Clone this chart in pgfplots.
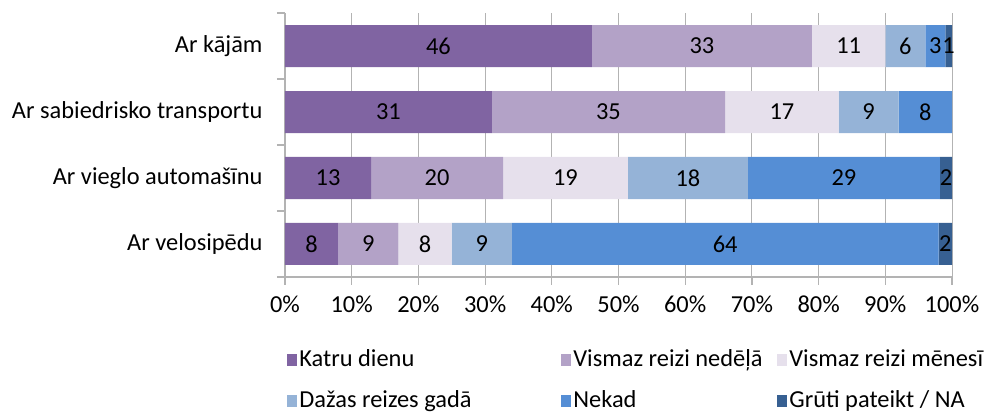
\documentclass[border=0pt]{standalone}
\usepackage{pgfplots}
\usepackage{pgfplotstable}
\pgfplotsset{compat=1.18}
\usepackage{fontspec}
\setmainfont{Carlito}
\definecolor{cA}{HTML}{8064A2}
\definecolor{cB}{HTML}{B3A2C7}
\definecolor{cC}{HTML}{E6E0EC}
\definecolor{cD}{HTML}{95B3D7}
\definecolor{cE}{HTML}{558ED5}
\definecolor{cF}{HTML}{376092}
\definecolor{gridc}{HTML}{B3B3B3}
% y: 0 = Ar velosipēdu, 1 = Ar vieglo automašīnu, 2 = Ar sabiedrisko transportu, 3 = Ar kājām
\pgfplotstableread{
v y
8 0
12.9 1
31 2
46 3
}\tA
\pgfplotstableread{
v y
9 0
19.8 1
35 2
33 3
}\tB
\pgfplotstableread{
v y
8 0
18.7 1
17 2
11 3
}\tC
\pgfplotstableread{
v y
9 0
18 1
9 2
6 3
}\tD
\pgfplotstableread{
v y
64 0
28.8 1
8 2
3 3
}\tE
\pgfplotstableread{
v y
2 0
1.8 1
0 2
1 3
}\tF
\begin{document}
\fontsize{12.2}{14.6}\selectfont
\begin{tikzpicture}
\useasboundingbox (-142.5pt,-69.5pt) rectangle (355pt,138.5pt);
\begin{axis}[
  at={(0,0)}, anchor=south west,
  scale only axis, width=333.5pt, height=132pt,
  xbar stacked, bar width=21pt,
  xmin=0, xmax=100, ymin=-0.5, ymax=3.5,
  xtick={0,10,...,100},
  xticklabel={\pgfmathprintnumber{\tick}\%},
  /pgf/number format/assume math mode=true,
  ytick={-0.5,0.5,1.5,2.5,3.5}, yticklabels={},
  extra y ticks={0,1,2,3},
  extra y tick labels={Ar velosipēdu, Ar vieglo automašīnu, Ar sabiedrisko transportu, Ar kājām},
  extra y tick style={major tick length=0pt, grid=none, yticklabel style={xshift=-7pt}},
  axis x line*=bottom, axis y line*=left,
  axis line style={-, draw=gridc, line width=0.6pt},
  tick style={draw=gridc, line width=0.6pt},
  tick align=outside, major tick length=4pt,
  xmajorgrids, grid style={draw=gridc, line width=0.5pt},
  every tick label/.append style={font=\fontsize{12.2}{14.6}\selectfont},
  xticklabel style={yshift=-1pt},
  visualization depends on={\thisrow{v} \as \rawx},
  nodes near coords={\pgfmathparse{\rawx}\ifdim\pgfmathresult pt>0.5pt\pgfmathprintnumber[fixed,precision=0]{\rawx}\fi},
  every node near coord/.append style={anchor=center, text=black, inner sep=0pt, font=\fontsize{12.2}{14.6}\selectfont},
  legend columns=3,
  legend style={at={(0.003,-0.235)}, anchor=north west, draw=none, fill=none,
    inner sep=0pt, column sep=0pt, row sep=0pt,
    nodes={inner sep=1pt, minimum height=20.5pt, font=\fontsize{12.2}{14.6}\selectfont}},
  legend image code/.code={\fill[#1] (0pt,-2.8pt) rectangle (5pt,3.2pt);},
]
\addplot[fill=cA, draw=none] table[x=v, y=y] {\tA};
\addlegendentry{\makebox[130pt][l]{Katru dienu}}
\addplot[fill=cB, draw=none] table[x=v, y=y] {\tB};
\addlegendentry{\makebox[101pt][l]{Vismaz reizi nedēļā}}
\addplot[fill=cC, draw=none] table[x=v, y=y] {\tC};
\addlegendentry{\makebox[102pt][l]{Vismaz reizi mēnesī}}
\addplot[fill=cD, draw=none] table[x=v, y=y] {\tD};
\addlegendentry{\makebox[130pt][l]{Dažas reizes gadā}}
\addplot[fill=cE, draw=none] table[x=v, y=y] {\tE};
\addlegendentry{\makebox[101pt][l]{Nekad}}
\addplot[fill=cF, draw=none] table[x=v, y=y] {\tF};
\addlegendentry{\makebox[102pt][l]{Grūti pateikt / NA}}
\end{axis}
\end{tikzpicture}
\end{document}
